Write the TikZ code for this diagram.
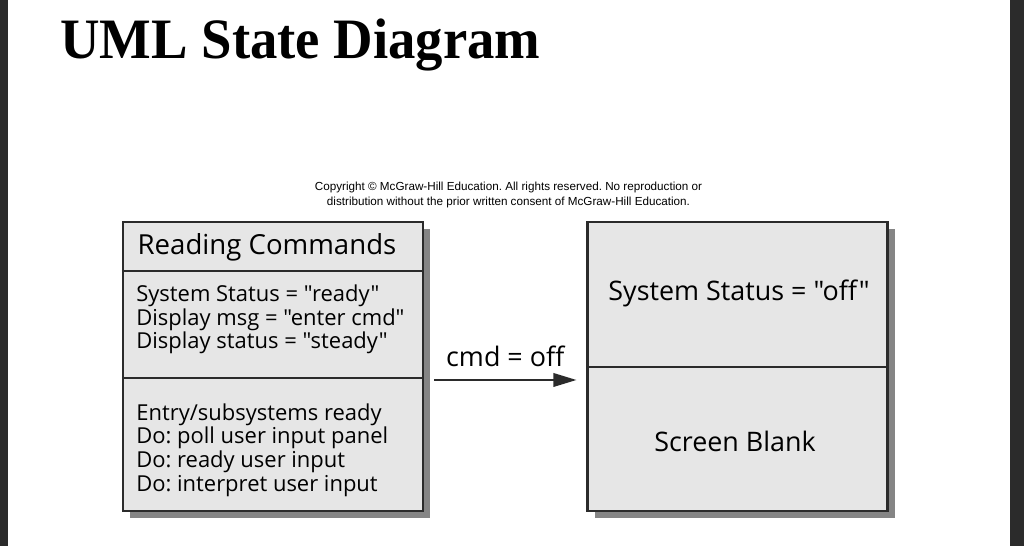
\documentclass[tikz,border=0pt]{standalone}
\usepackage{fontspec}
\setmainfont{Open Sans}[Ligatures=TeXOff]
\newfontfamily\titlefont{Liberation Serif}
\newfontfamily\notefont{Liberation Sans}
\usetikzlibrary{arrows.meta,shadows}
\frenchspacing

\definecolor{boxgray}{HTML}{E6E6E6}
\definecolor{edgegray}{HTML}{2B2B2B}

\tikzset{
  statebox/.style={draw=edgegray, line width=1.2pt, fill=boxgray, inner sep=0pt,
    minimum width=6cm, minimum height=5.78cm,
    drop shadow={shadow xshift=0.14cm, shadow yshift=-0.14cm, fill=black!48, opacity=1}},
  boxtext/.style={font=\fontsize{12.5}{13.4}\selectfont, align=left, inner sep=0pt},
  bigtext/.style={font=\fontsize{15.3}{17}\selectfont, inner sep=0pt}
}

\begin{document}
\begin{tikzpicture}[>={Triangle[length=4.6mm, width=2.7mm]}]
  \useasboundingbox (0,0) rectangle (20.48,10.92);
  % page edges
  \fill[edgegray] (0,0) rectangle (0.16,10.92);
  \fill[edgegray] (20.2,0) rectangle (20.48,10.92);
  % title and note
  \node[anchor=west, inner sep=0pt] (title) at (1.2,10.02)
    {\scalebox{0.958}[1]{\titlefont\bfseries\fontsize{32.5}{36}\selectfont UML State Diagram}};
  \node[font=\notefont\fontsize{6.65}{8}\selectfont, align=center, inner sep=0pt] (note) at (10.17,7.02)
    {Copyright \textcopyright{} McGraw-Hill Education. All rights reserved. No reproduction or\\
     distribution without the prior written consent of McGraw-Hill Education.};
  % state 1
  \node[statebox] (reading) at (5.46,3.59) {};
  \draw[edgegray, line width=0.9pt] (reading.west |- 0,5.50) -- (reading.east |- 0,5.50);
  \draw[edgegray, line width=0.9pt] (reading.west |- 0,3.36) -- (reading.east |- 0,3.36);
  \node[font=\fontsize{15.7}{17}\selectfont, inner sep=0pt] (rname) at (5.34,5.97) {Reading Commands};
  \node[boxtext, anchor=west] (rvars) at (2.72,4.53)
    {System Status = "ready"\\ Display msg = "enter cmd"\\ Display status = "steady"};
  \node[boxtext, anchor=west] (racts) at (2.72,1.92)
    {Entry/subsystems ready\\ Do: poll user input panel\\ Do: ready user input\\ Do: interpret user input};
  % state 2
  \node[statebox] (blank) at (14.75,3.59) {};
  \draw[edgegray, line width=0.9pt] (blank.west |- 0,3.58) -- (blank.east |- 0,3.58);
  \node[bigtext] (bvars) at (14.78,5.06) {System Status = "off"};
  \node[bigtext] (bacts) at (14.70,2.10) {Screen Blank};
  % transition
  \draw[->, line width=1.1pt, edgegray, shorten <=0.2cm, shorten >=0.2cm]
    (reading.east |- 0,3.32) -- (blank.west |- 0,3.32)
    node[midway, above=0.24cm, bigtext, text=black] (trig) {cmd = off};
\end{tikzpicture}
\end{document}
